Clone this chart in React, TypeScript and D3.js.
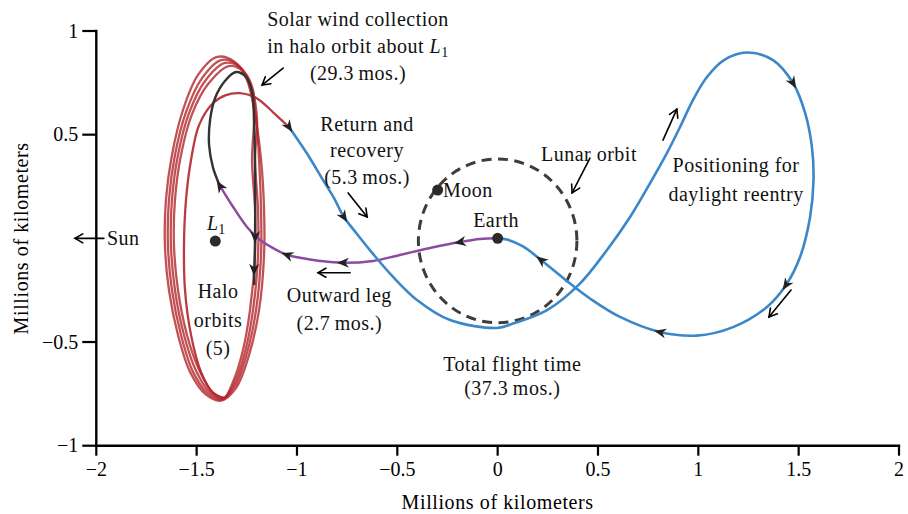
import React from 'react';
import * as d3 from 'd3';

type P = [number, number];

const W = 908;
const H = 514;

const xTicks = [-2, -1.5, -1, -0.5, 0, 0.5, 1, 1.5, 2];
const yTicks = [-1, -0.5, 0.5, 1];
const axisTitle = 'Millions of kilometers';

// Halo orbits (5) around L1 — four complete loops plus the final exit loop
const haloLoop1: P[] = [
  [-1.398, 0.875], [-1.309, 0.85], [-1.249, 0.764], [-1.209, 0.595], [-1.179, 0.378],
  [-1.164, 0.137], [-1.164, -0.08], [-1.189, -0.346], [-1.239, -0.563], [-1.304, -0.722],
  [-1.379, -0.783], [-1.453, -0.754], [-1.533, -0.644], [-1.593, -0.466], [-1.638, -0.249],
  [-1.658, -0.032], [-1.653, 0.185], [-1.623, 0.402], [-1.568, 0.619], [-1.493, 0.788],
];
const haloLoop2: P[] = [
  [-1.378, 0.86], [-1.294, 0.836], [-1.239, 0.749], [-1.204, 0.585], [-1.189, 0.378],
  [-1.179, 0.137], [-1.179, -0.08], [-1.204, -0.346], [-1.249, -0.553], [-1.309, -0.712],
  [-1.373, -0.778], [-1.443, -0.749], [-1.518, -0.644], [-1.578, -0.466], [-1.623, -0.249],
  [-1.643, -0.032], [-1.638, 0.185], [-1.608, 0.402], [-1.553, 0.609], [-1.473, 0.773],
];
const haloLoop3: P[] = [
  [-1.359, 0.846], [-1.279, 0.821], [-1.229, 0.735], [-1.199, 0.576], [-1.209, 0.378],
  [-1.194, 0.137], [-1.194, -0.08], [-1.219, -0.346], [-1.259, -0.548], [-1.314, -0.703],
  [-1.369, -0.773], [-1.433, -0.744], [-1.503, -0.639], [-1.563, -0.466], [-1.608, -0.249],
  [-1.628, -0.032], [-1.623, 0.185], [-1.593, 0.402], [-1.538, 0.604], [-1.458, 0.759],
];
const haloLoop4: P[] = [
  [-1.339, 0.831], [-1.264, 0.802], [-1.219, 0.715], [-1.214, 0.566], [-1.224, 0.378],
  [-1.209, 0.137], [-1.209, -0.08], [-1.234, -0.346], [-1.269, -0.538], [-1.319, -0.693],
  [-1.364, -0.769], [-1.423, -0.74], [-1.488, -0.634], [-1.548, -0.466], [-1.593, -0.249],
  [-1.613, -0.032], [-1.608, 0.185], [-1.578, 0.402], [-1.523, 0.599], [-1.443, 0.744],
];
const haloLoops = [haloLoop1, haloLoop2, haloLoop3, haloLoop4];

const haloExit: P[] = [
  [-1.364, -0.769], [-1.418, -0.745], [-1.478, -0.645], [-1.528, -0.466], [-1.558, -0.249],
  [-1.563, -0.032], [-1.553, 0.185], [-1.528, 0.378], [-1.488, 0.546], [-1.418, 0.653],
  [-1.354, 0.691], [-1.284, 0.7], [-1.199, 0.675], [-1.119, 0.608], [-1.04, 0.537],
];

// Solar wind collection: insertion into halo
const insertion: P[] = [
  [-1.384, 0.253], [-1.418, 0.34], [-1.438, 0.45], [-1.433, 0.571], [-1.408, 0.677],
  [-1.359, 0.759], [-1.304, 0.802], [-1.254, 0.778], [-1.224, 0.706], [-1.214, 0.571],
  [-1.209, 0.33], [-1.209, 0.007], [-1.214, -0.225],
];

// Outward leg: Earth -> L1
const outward: P[] = [
  [0, 0], [-0.088, -0.003], [-0.188, -0.018], [-0.337, -0.047], [-0.487, -0.08],
  [-0.621, -0.109], [-0.771, -0.118], [-0.885, -0.109], [-0.985, -0.094], [-1.049, -0.08],
  [-1.119, -0.047], [-1.184, -0.008], [-1.249, 0.055], [-1.318, 0.151], [-1.384, 0.253],
];

// Return and recovery + positioning loop back to Earth
const returnPath: P[] = [
  [-1.04, 0.537], [-0.95, 0.409], [-0.87, 0.281], [-0.816, 0.195], [-0.766, 0.103],
  [-0.701, 0.021], [-0.621, -0.075], [-0.521, -0.186], [-0.402, -0.297], [-0.237, -0.394],
  [-0.003, -0.432], [0.076, -0.411], [0.246, -0.346], [0.41, -0.218], [0.545, -0.056],
  [0.66, 0.103], [0.759, 0.265], [0.844, 0.412], [0.909, 0.537], [0.973, 0.667],
  [1.043, 0.778], [1.128, 0.86], [1.243, 0.896], [1.372, 0.86], [1.472, 0.749],
  [1.532, 0.605], [1.566, 0.441], [1.574, 0.281], [1.557, 0.103], [1.507, -0.09],
  [1.437, -0.225], [1.342, -0.331], [1.173, -0.428], [0.993, -0.469], [0.809, -0.452],
  [0.61, -0.379], [0.46, -0.29], [0.361, -0.218], [0.216, -0.104], [0.126, -0.039],
  [0.047, -0.006], [0, 0],
];

const lunarRadius = 0.395;
const lunarCenter: P = [0, -0.012];

const bodies = [
  { name: 'Earth', at: [0, 0] as P },
  { name: 'Moon', at: [-0.299, 0.233] as P },
  { name: 'L1', at: [-1.407, -0.013] as P },
];

// Direction arrows along trajectories
const pathArrows: { path: string; at: P }[] = [
  { path: 'return', at: [-1.04, 0.537] },
  { path: 'return', at: [-0.766, 0.103] },
  { path: 'return', at: [1.472, 0.749] },
  { path: 'return', at: [1.437, -0.225] },
  { path: 'return', at: [0.809, -0.452] },
  { path: 'return', at: [0.216, -0.104] },
  { path: 'outward', at: [-0.188, -0.018] },
  { path: 'outward', at: [-0.771, -0.118] },
  { path: 'outward', at: [-1.049, -0.08] },
  { path: 'outward', at: [-1.384, 0.253] },
  { path: 'insertion', at: [-1.209, 0.007] },
  { path: 'insertion', at: [-1.214, -0.152] },
];

// Annotation arrows: from -> to
const noteArrows: [P, P][] = [
  [[-1.069, 0.821], [-1.174, 0.739]],
  [[-0.745, 0.219], [-0.65, 0.103]],
  [[0.46, 0.387], [0.371, 0.219]],
  [[0.824, 0.474], [0.893, 0.623]],
  [[1.462, -0.249], [1.352, -0.379]],
  [[-0.735, -0.166], [-0.895, -0.166]],
  [[-1.962, 0], [-2.106, 0]],
];

const labels: { lines: string[]; at: P; anchor: string; lh: number }[] = [
  { lines: ['Return and', 'recovery', '(5.3\u2009mos.)'], at: [-0.651, 0.518], anchor: 'middle', lh: 26.5 },
  { lines: ['Lunar orbit'], at: [0.455, 0.373], anchor: 'middle', lh: 0 },
  { lines: ['Moon'], at: [-0.272, 0.199], anchor: 'start', lh: 0 },
  { lines: ['Earth'], at: [-0.008, 0.055], anchor: 'middle', lh: 0 },
  { lines: ['Positioning for', 'daylight reentry'], at: [1.188, 0.318], anchor: 'middle', lh: 29 },
  { lines: ['Outward leg', '(2.7\u2009mos.)'], at: [-0.789, -0.309], anchor: 'middle', lh: 27.5 },
  { lines: ['Halo', 'orbits', '(5)'], at: [-1.393, -0.288], anchor: 'middle', lh: 28.5 },
  { lines: ['Total flight time', '(37.3\u2009mos.)'], at: [0.073, -0.64], anchor: 'middle', lh: 24 },
  { lines: ['Sun'], at: [-1.947, -0.032], anchor: 'start', lh: 0 },
];

const solarLines = ['Solar wind collection', 'in halo orbit about ', '(29.3\u2009mos.)'];
const solarAt: P = [-0.696, 1.024];
const l1LabelAt: P = [-1.448, 0.04];

const BLUE = '#3b87c8';
const RED = '#b3262c';
const PURPLE = '#8d4b9f';
const DARK = '#333333';
const FONT = '"Liberation Serif", "Times New Roman", serif';

const x = d3.scaleLinear().domain([-2, 2]).range([96.3, 899]);
const y = d3.scaleLinear().domain([-1, 1]).range([445.7, 31]);

const line = d3.line<P>().x((d) => x(d[0])).y((d) => y(d[1])).curve(d3.curveCatmullRom.alpha(0.5));
const closedLine = d3.line<P>().x((d) => x(d[0])).y((d) => y(d[1])).curve(d3.curveCatmullRomClosed.alpha(0.5));

const paths: Record<string, P[]> = { return: returnPath, outward, insertion };

function arrowAngle(pts: P[], at: P): number {
  let best = 0;
  let bd = Infinity;
  pts.forEach((p, i) => {
    const d = (x(p[0]) - x(at[0])) ** 2 + (y(p[1]) - y(at[1])) ** 2;
    if (d < bd) { bd = d; best = i; }
  });
  const a = pts[Math.max(0, best - 1)];
  const b = pts[Math.min(pts.length - 1, best + 1)];
  return (Math.atan2(y(b[1]) - y(a[1]), x(b[0]) - x(a[0])) * 180) / Math.PI;
}

const fmt = (v: number) => (v < 0 ? '\u2212' : '') + String(Math.abs(v));

export default function App() {
  return (
    <svg width={W} height={H} style={{ position: 'absolute', left: 0, top: 0, background: '#fff' }}
      fontFamily={FONT} fontSize={20}>
      {/* Axes */}
      <line x1={x(-2)} y1={y(1)} x2={x(-2)} y2={y(-1)} stroke="#000" strokeWidth={2.4} strokeLinecap="square" />
      <line x1={x(-2)} y1={y(-1)} x2={x(2)} y2={y(-1)} stroke="#000" strokeWidth={2.4} strokeLinecap="square" />
      {yTicks.map((t) => (
        <g key={'y' + t}>
          <line x1={x(-2) - 14} x2={x(-2)} y1={y(t)} y2={y(t)} stroke="#000" strokeWidth={2.2} />
          <text x={x(-2) - 18} y={y(t) + 6.5} textAnchor="end">{fmt(t)}</text>
        </g>
      ))}
      {xTicks.map((t) => (
        <g key={'x' + t}>
          <line x1={x(t)} x2={x(t)} y1={y(-1)} y2={y(-1) + 10} stroke="#000" strokeWidth={2.2} />
          <text x={x(t)} y={476} textAnchor="middle">{fmt(t)}</text>
        </g>
      ))}
      <text x={(x(-2) + x(2)) / 2} y={509} textAnchor="middle" letterSpacing={0.6}>{axisTitle}</text>
      <text transform={`translate(28, ${(y(1) + y(-1)) / 2}) rotate(-90)`} textAnchor="middle" letterSpacing={0.6}>{axisTitle}</text>

      {/* Lunar orbit */}
      <ellipse cx={x(lunarCenter[0])} cy={y(lunarCenter[1])}
        rx={x(lunarRadius) - x(0)} ry={y(0) - y(lunarRadius)}
        fill="none" stroke="#3d3d3d" strokeWidth={3} strokeDasharray="10 6.5" />

      {/* Halo orbits */}
      {haloLoops.map((l, i) => (
        <path key={'h' + i} d={closedLine(l) || ''} fill="none" stroke={RED} strokeOpacity={0.8} strokeWidth={2.3} />
      ))}
      <path d={line(haloExit) || ''} fill="none" stroke={RED} strokeOpacity={0.9} strokeWidth={2.3} />
      <path d={line(insertion) || ''} fill="none" stroke={DARK} strokeWidth={2.4} />
      <path d={line(outward) || ''} fill="none" stroke={PURPLE} strokeWidth={2.5} />
      <path d={line(returnPath) || ''} fill="none" stroke={BLUE} strokeWidth={2.6} />

      {/* Trajectory direction arrows */}
      {pathArrows.map((a, i) => (
        <path key={'pa' + i}
          transform={`translate(${x(a.at[0])},${y(a.at[1])}) rotate(${arrowAngle(paths[a.path], a.at)})`}
          d="M6,0 L-6,-5 L-2.5,0 L-6,5 Z" fill="#222" />
      ))}

      {/* Bodies */}
      {bodies.map((b) => (
        <circle key={b.name} cx={x(b.at[0])} cy={y(b.at[1])} r={5.5} fill="#2b2b2b" />
      ))}

      {/* Annotation arrows */}
      {noteArrows.map(([f, t], i) => {
        const x1 = x(f[0]), y1 = y(f[1]), x2 = x(t[0]), y2 = y(t[1]);
        const ang = Math.atan2(y2 - y1, x2 - x1);
        const hl = 9, ha = Math.PI / 6;
        const h1 = [x2 - hl * Math.cos(ang - ha), y2 - hl * Math.sin(ang - ha)];
        const h2 = [x2 - hl * Math.cos(ang + ha), y2 - hl * Math.sin(ang + ha)];
        return (
          <g key={'na' + i} stroke="#000" strokeWidth={1.6} fill="none" strokeLinecap="round">
            <line x1={x1} y1={y1} x2={x2} y2={y2} />
            <path d={`M${h1[0]},${h1[1]} L${x2},${y2} L${h2[0]},${h2[1]}`} />
          </g>
        );
      })}

      {/* Labels */}
      {labels.map((l, i) => (
        <text key={'l' + i} x={x(l.at[0])} y={y(l.at[1])} textAnchor={l.anchor} letterSpacing={0.5} fill="#111">
          {l.lines.map((s, j) => (
            <tspan key={j} x={x(l.at[0])} dy={j === 0 ? 0 : l.lh}>{s}</tspan>
          ))}
        </text>
      ))}
      <text x={x(solarAt[0])} y={y(solarAt[1])} textAnchor="middle" letterSpacing={0.5} fill="#111">
        <tspan x={x(solarAt[0])} dy={0}>{solarLines[0]}</tspan>
        <tspan x={x(solarAt[0])} dy={27}>{solarLines[1]}<tspan fontStyle="italic">L</tspan><tspan fontSize={14} dy={4}>1</tspan></tspan>
        <tspan x={x(solarAt[0])} dy={23}>{solarLines[2]}</tspan>
      </text>
      <text x={x(l1LabelAt[0])} y={y(l1LabelAt[1])} fill="#111">
        <tspan fontStyle="italic">L</tspan><tspan fontSize={14} dy={4}>1</tspan>
      </text>
    </svg>
  );
}
